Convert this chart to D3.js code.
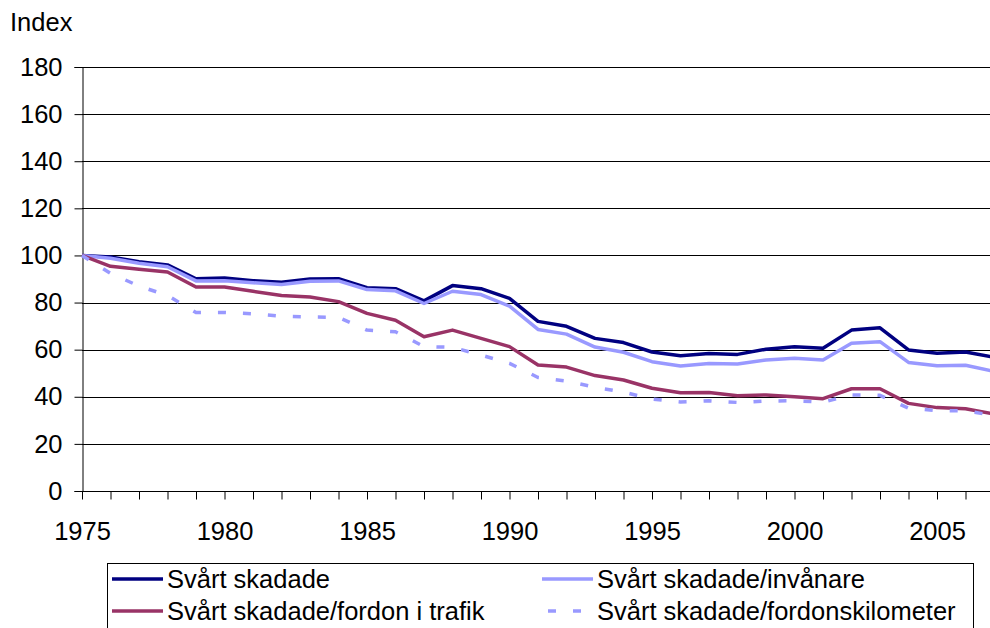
<!DOCTYPE html>
<html><head><meta charset="utf-8">
<script src="https://cdn.jsdelivr.net/npm/d3@7"></script>
<style>
html,body{margin:0;padding:0;background:#fff;}
svg{display:block;font-family:"Liberation Sans",Arial,sans-serif;}
</style></head>
<body><svg id="c" width="990" height="628"></svg>
<script>
const years = d3.range(1975, 2008);
const svartSkadade = [100, 99.3, 97.3, 96.0, 90.1, 90.4, 89.3, 88.6, 90.0, 90.1, 86.3, 85.9, 80.7, 87.2, 85.9, 81.8, 72.0, 69.9, 64.8, 63.0, 59.0, 57.4, 58.4, 58.0, 60.2, 61.2, 60.6, 68.3, 69.3, 59.9, 58.5, 59.0, 56.8];
const perInvanare = [100, 98.8, 96.7, 95.2, 89.2, 89.3, 88.4, 87.7, 89.0, 89.2, 85.5, 85.0, 79.6, 84.8, 83.4, 78.5, 68.6, 66.6, 61.1, 58.9, 54.9, 53.1, 54.1, 53.9, 55.6, 56.4, 55.6, 62.7, 63.4, 54.6, 53.2, 53.4, 50.8];
const perFordon = [100, 95.4, 94.1, 93.0, 86.6, 86.6, 84.8, 83.0, 82.4, 80.4, 75.4, 72.5, 65.5, 68.3, 64.8, 61.3, 53.5, 52.6, 49.0, 47.1, 43.6, 41.7, 41.8, 40.4, 40.8, 40.0, 39.2, 43.4, 43.4, 37.2, 35.4, 34.9, 32.7];
const perFordonskm = [100, 92.4, 87.0, 83.0, 75.8, 75.8, 75.2, 74.2, 73.9, 73.7, 68.3, 67.6, 61.3, 61.0, 57.7, 54.2, 48.2, 46.7, 44.0, 42.0, 39.0, 37.8, 38.3, 37.6, 38.2, 38.3, 37.7, 40.8, 40.6, 35.2, 34.1, 34.1, 32.0];
const seriesNames = ["Svårt skadade", "Svårt skadade/invånare", "Svårt skadade/fordon i trafik", "Svårt skadade/fordonskilometer"];
const yTicks = [0, 20, 40, 60, 80, 100, 120, 140, 160, 180];
const xTickLabels = [1975, 1980, 1985, 1990, 1995, 2000, 2005];
const yTitle = "Index";

const colors = ["#000080", "#9999FF", "#993366", "#9999FF"];
const dashes = [null, null, null, "8,17"];
const allSeries = [svartSkadade, perInvanare, perFordon, perFordonskm];

const svg = d3.select("#c");
const FS = 25.5;
const pL = 82, pT = 67, pB = 491, pR = 990;
const x = d3.scaleLinear().domain([1975, 2007]).range([pL, pL + 32 * 28.5]);
const y = d3.scaleLinear().domain([0, 180]).range([pB, pT]);

// gridlines
svg.append("g").selectAll("line").data(yTicks.filter(d => d > 0)).join("line")
  .attr("x1", pL).attr("x2", pR)
  .attr("y1", d => Math.round(y(d)) + 0.5).attr("y2", d => Math.round(y(d)) + 0.5)
  .attr("stroke", "#000").attr("stroke-width", 1);

// y axis
const ya = svg.append("g").attr("transform", `translate(${pL + 0.5},0)`)
  .call(d3.axisLeft(y).tickValues(yTicks).tickSize(8).tickPadding(12).tickFormat(d3.format("d")));
ya.select(".domain").attr("stroke", "#000");
ya.selectAll(".tick line").attr("stroke", "#000");
ya.selectAll("text").attr("font-size", FS).attr("font-family", "Liberation Sans, Arial, sans-serif").attr("fill", "#000");

// x axis
const xa = svg.append("g").attr("transform", `translate(0,${Math.round(pB) + 0.5})`)
  .call(d3.axisBottom(x).tickValues(d3.range(1975, 2007)).tickSize(8).tickPadding(22)
    .tickFormat(d => xTickLabels.includes(d) ? String(d) : ""));
xa.select(".domain").attr("d", `M${pL},0H${pR}`).attr("stroke", "#000");
xa.selectAll(".tick line").attr("stroke", "#000");
xa.selectAll("text").attr("font-size", FS).attr("font-family", "Liberation Sans, Arial, sans-serif").attr("fill", "#000");

// title
svg.append("text").attr("x", 10).attr("y", 31).attr("font-size", FS).text(yTitle);

// lines
const line = d3.line().x((d, i) => x(years[i])).y(d => y(d));
allSeries.forEach((s, i) => {
  svg.append("path").datum(s).attr("d", line).attr("fill", "none")
    .attr("stroke", colors[i]).attr("stroke-width", 3.5)
    .attr("stroke-linejoin", "round")
    .attr("stroke-dasharray", dashes[i]);
});

// legend
const lg = svg.append("g");
lg.append("rect").attr("x", 107.5).attr("y", 563.5).attr("width", 866).attr("height", 100)
  .attr("fill", "#fff").attr("stroke", "#000").attr("stroke-width", 1);
const legPos = [[112, 579], [542, 579], [112, 611], [542, 611]];
seriesNames.forEach((n, i) => {
  const [lx, ly] = legPos[i];
  lg.append("line").attr("x1", lx).attr("x2", lx + 51).attr("y1", ly).attr("y2", ly)
    .attr("stroke", colors[i]).attr("stroke-width", 3.5).attr("stroke-dasharray", dashes[i])
    .attr("stroke-dashoffset", dashes[i] ? -6 : null);
  lg.append("text").attr("x", lx + 55).attr("y", ly).attr("dy", "0.35em").attr("font-size", FS).text(n);
});
</script></body></html>
